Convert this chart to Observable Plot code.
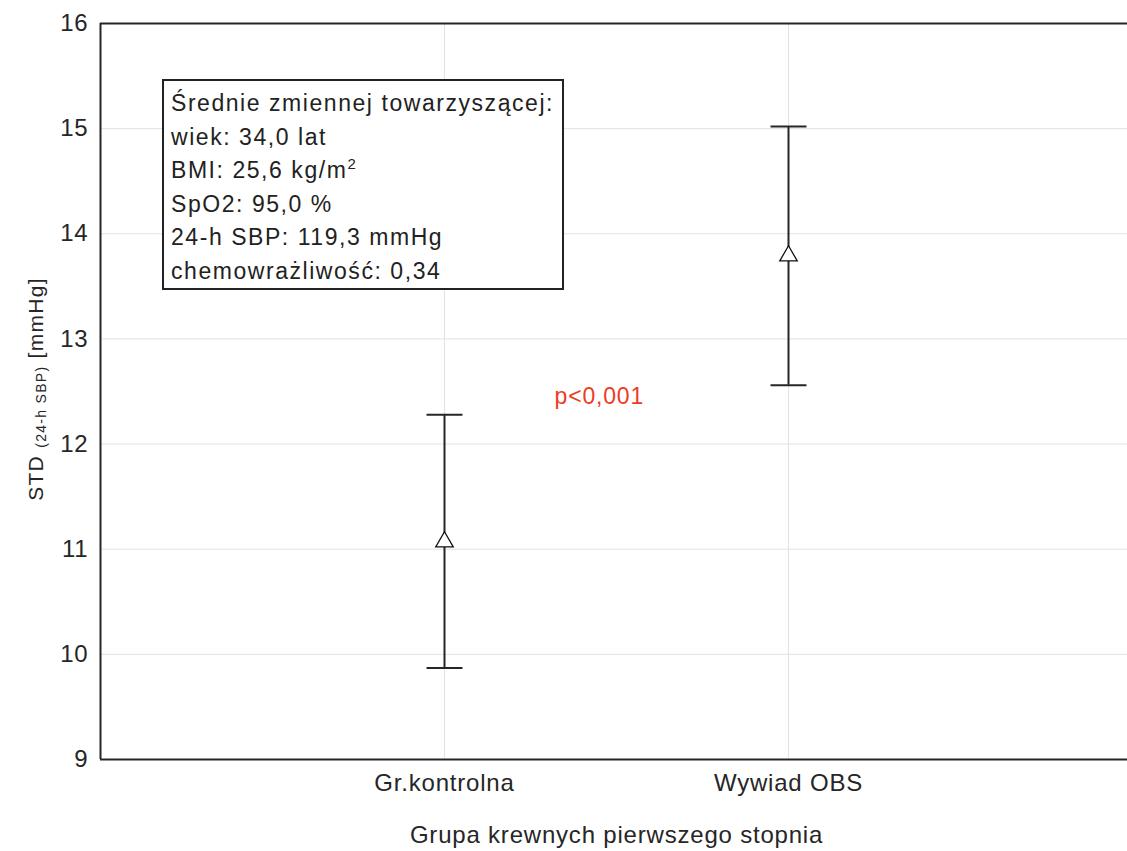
<!DOCTYPE html>
<html>
<head>
<meta charset="utf-8">
<script src="https://cdn.jsdelivr.net/npm/d3@7"></script>
<script src="https://cdn.jsdelivr.net/npm/@observablehq/plot@0.6"></script>
<style>
  body { margin: 0; background: #fff; font-family: "Liberation Sans", Arial, sans-serif; }
  #wrap { position: relative; width: 1127px; height: 851px; }
  #legend {
    position: absolute; left: 162px; top: 79px;
    border: 2px solid #222; background: #fff; color: #222;
    font-size: 23px; letter-spacing: 1.55px; line-height: 33.6px;
    padding: 6px 0 0 7px; box-sizing: border-box; width: 402px; height: 211px;
  }
  #legend div { white-space: nowrap; }
  #legend sup { font-size: 15px; vertical-align: 9px; line-height: 0; letter-spacing: 0; }
</style>
</head>
<body>
<div id="wrap"></div>
<script>
// ---- data ----
const groups = ["Gr.kontrolna", "Wywiad OBS"];
const means  = [11.07, 13.79];
const lower  = [9.87, 12.56];
const upper  = [12.28, 15.02];
const yTicks = [9, 10, 11, 12, 13, 14, 15, 16];
const legendLines = [
  "Średnie zmiennej towarzyszącej:",
  "wiek: 34,0 lat",
  "BMI: 25,6 kg/m<sup>2</sup>",
  "SpO2: 95,0 %",
  "24-h SBP: 119,3 mmHg",
  "chemowrażliwość: 0,34"
];
const pText = ["p<0,001"];
const pPos = {x: 1.45, y: 12.45};
const xLabel = "Grupa krewnych pierwszego stopnia";

const data = groups.map((g, i) => ({group: g, pos: i + 1, mean: means[i], lo: lower[i], hi: upper[i]}));

const cap = {
  draw(ctx, size) {
    const w = Math.sqrt(size / Math.PI);
    ctx.moveTo(-w, 0);
    ctx.lineTo(w, 0);
  }
};

const ink = "#262626";
const grid = "#e2e2e2";

const chart = Plot.plot({
  width: 1127,
  height: 851,
  marginLeft: 100,
  marginRight: -5,
  marginTop: 23,
  marginBottom: 92,
  style: {fontFamily: "'Liberation Sans', Arial, sans-serif", fontSize: "24px", color: ink, background: "#fff", letterSpacing: "0.8px", overflow: "visible"},
  x: {domain: [0, 3], ticks: [1, 2], tickFormat: d => groups[d - 1], tickSize: 0, tickPadding: 14,
      label: xLabel, labelAnchor: "center", labelArrow: "none", labelOffset: 83},
  y: {domain: [9, 16], ticks: yTicks, tickFormat: d3.format("d"), tickSize: 0, tickPadding: 12, label: null},
  marks: [
    Plot.ruleY(yTicks.slice(1, -1), {stroke: grid, strokeWidth: 1}),
    Plot.ruleX(data, {x: "pos", stroke: grid, strokeWidth: 1}),
    Plot.ruleY([9, 16], {stroke: ink, strokeWidth: 2}),
    Plot.ruleX([0], {stroke: ink, strokeWidth: 2}),
    Plot.ruleX(data, {x: "pos", y1: "lo", y2: "hi", stroke: ink, strokeWidth: 2}),
    Plot.dot(data, {x: "pos", y: "hi", symbol: cap, r: 18, stroke: ink, strokeWidth: 2}),
    Plot.dot(data, {x: "pos", y: "lo", symbol: cap, r: 18, stroke: ink, strokeWidth: 2}),
    Plot.dot(data, {x: "pos", y: "mean", symbol: "triangle", r: 6.5, fill: "#fff", stroke: "#111", strokeWidth: 1.3}),
    Plot.text(pText, {x: () => pPos.x, y: () => pPos.y, text: d => d, fill: "#ee3b24", fontSize: 23, letterSpacing: "1px"})
  ]
});

// y-axis label with subscript part
const svg = d3.select(chart);
const yl = svg.append("text")
  .attr("transform", "translate(43,389) rotate(-90)")
  .attr("text-anchor", "middle")
  .attr("fill", ink)
  .style("font-size", "21px")
  .style("letter-spacing", "1.3px");
yl.append("tspan").text("STD ");
yl.append("tspan").text("(24-h SBP)").style("font-size", "14px").attr("dy", "3");
yl.append("tspan").text(" [mmHg]").attr("dy", "-3");

const wrap = document.getElementById("wrap");
wrap.appendChild(chart);
const leg = document.createElement("div");
leg.id = "legend";
leg.innerHTML = legendLines.map(l => `<div>${l}</div>`).join("");
wrap.appendChild(leg);
</script>
</body>
</html>
